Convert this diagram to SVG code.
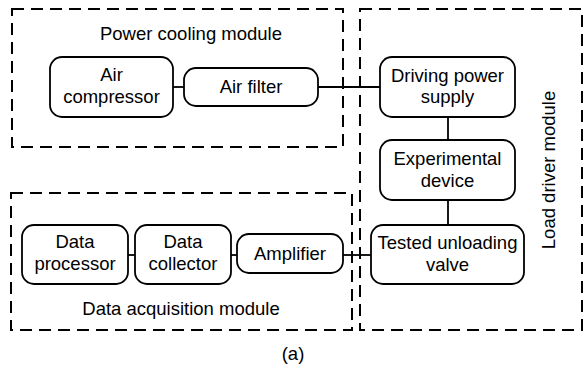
<svg xmlns="http://www.w3.org/2000/svg" width="583" height="369" viewBox="0 0 583 369">
  <style>
    .module { fill: none; stroke: #000; stroke-width: 2; stroke-dasharray: 12 7; }
    .node rect { fill: #fff; stroke: #000; stroke-width: 1.8; }
    .link { stroke: #000; stroke-width: 1.8; fill: none; }
    text { font-family: "Liberation Sans", Arial, sans-serif; font-size: 18.5px; fill: #000; text-anchor: middle; }
  </style>
  <rect width="583" height="369" fill="#fff"/>

  <!-- connectors -->
  <g id="connectors">
    <line class="link" x1="173" y1="87" x2="184" y2="87"/>
    <line class="link" x1="318" y1="87" x2="380" y2="87"/>
    <line class="link" x1="448" y1="117" x2="448" y2="140"/>
    <line class="link" x1="448" y1="200" x2="448" y2="225"/>
    <line class="link" x1="128" y1="255" x2="135" y2="255"/>
    <line class="link" x1="231" y1="255" x2="237" y2="255"/>
    <line class="link" x1="343" y1="255" x2="371" y2="255"/>
  </g>

  <!-- module frames -->
  <g id="power-cooling-module">
    <rect class="module" x="12" y="9" width="331" height="138"/>
    <text x="191" y="40">Power cooling module</text>
  </g>
  <g id="data-acquisition-module">
    <rect class="module" x="11" y="193" width="341" height="137"/>
    <text x="181" y="315">Data acquisition module</text>
  </g>
  <g id="load-driver-module">
    <rect class="module" x="360" y="9" width="222" height="321"/>
    <text transform="translate(555 170) rotate(-90)">Load driver module</text>
  </g>

  <!-- nodes -->
  <g id="air-compressor" class="node">
    <rect x="50" y="57" width="123" height="60" rx="12"/>
    <text x="111.5" y="81">Air</text>
    <text x="111.5" y="103">compressor</text>
  </g>
  <g id="air-filter" class="node">
    <rect x="184" y="68" width="134" height="38" rx="12"/>
    <text x="251" y="93">Air filter</text>
  </g>
  <g id="driving-power-supply" class="node">
    <rect x="380" y="57" width="135" height="60" rx="12"/>
    <text x="447.5" y="82">Driving power</text>
    <text x="447.5" y="103">supply</text>
  </g>
  <g id="experimental-device" class="node">
    <rect x="380" y="140" width="135" height="60" rx="12"/>
    <text x="447.5" y="165">Experimental</text>
    <text x="447.5" y="187">device</text>
  </g>
  <g id="tested-unloading-valve" class="node">
    <rect x="371" y="225" width="153" height="59" rx="12"/>
    <text x="447.5" y="249">Tested unloading</text>
    <text x="447.5" y="271">valve</text>
  </g>
  <g id="data-processor" class="node">
    <rect x="22" y="225" width="106" height="59" rx="12"/>
    <text x="75" y="248">Data</text>
    <text x="75" y="270">processor</text>
  </g>
  <g id="data-collector" class="node">
    <rect x="135" y="225" width="96" height="59" rx="12"/>
    <text x="183" y="248">Data</text>
    <text x="183" y="270">collector</text>
  </g>
  <g id="amplifier" class="node">
    <rect x="237" y="234" width="106" height="39" rx="12"/>
    <text x="290" y="260">Amplifier</text>
  </g>

  <text x="293" y="360">(a)</text>
</svg>
